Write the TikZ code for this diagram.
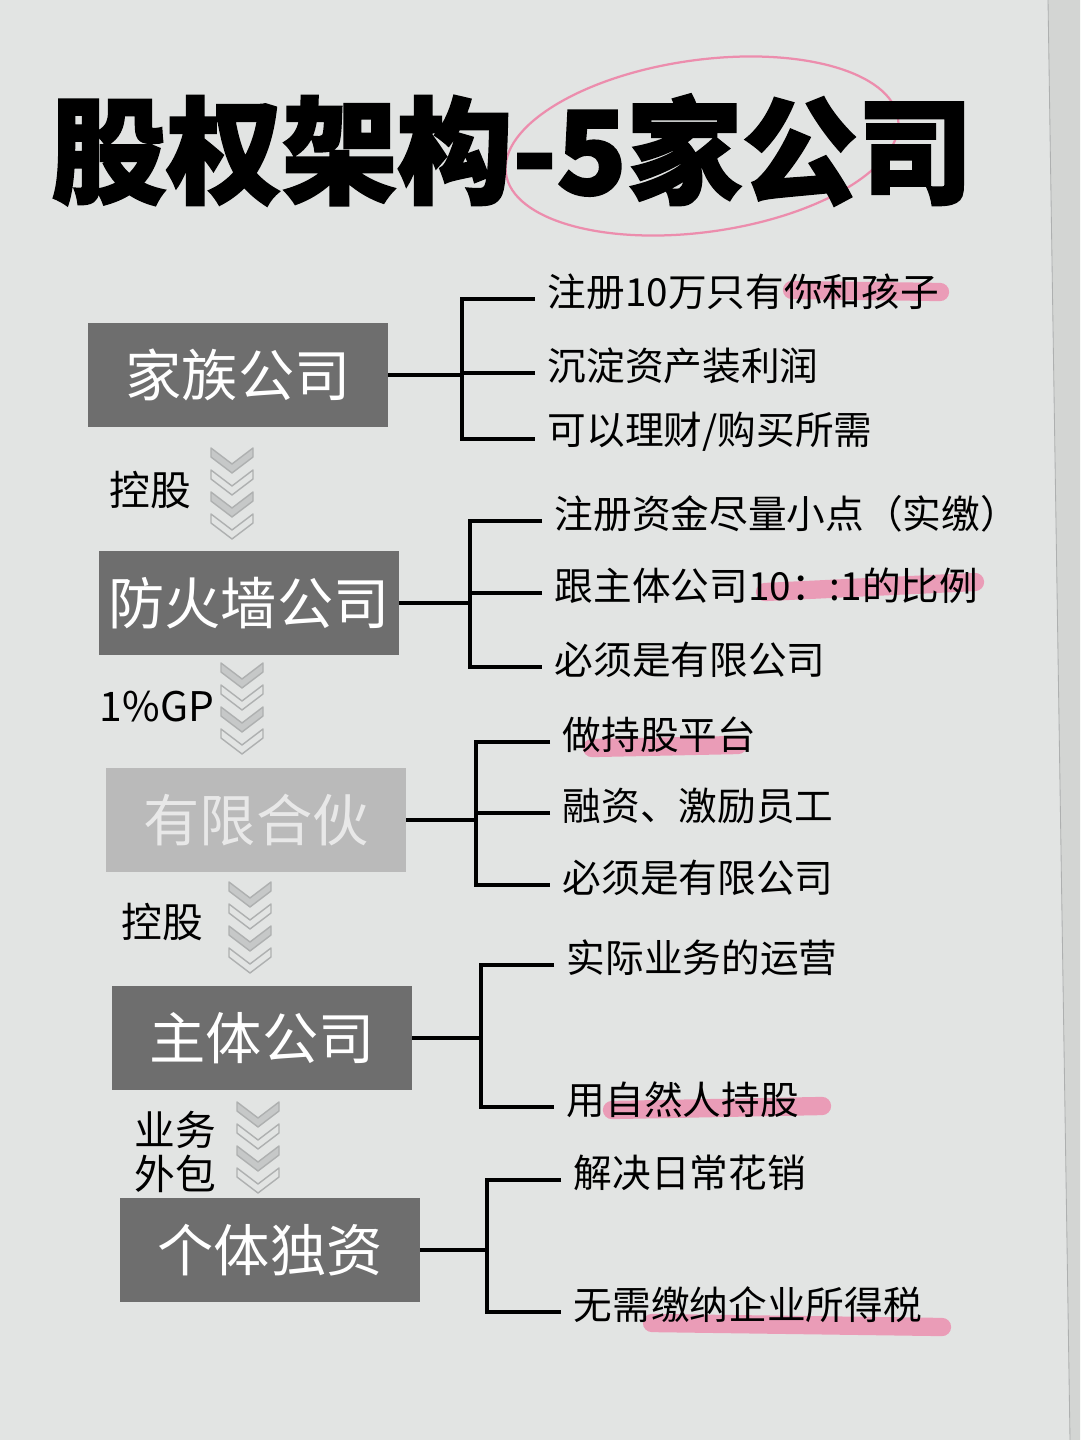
\documentclass[tikz,border=0pt]{standalone}
\usepackage{fontspec}
\setmainfont{Noto Sans CJK SC}
\newfontfamily\titlefont{Noto Sans CJK SC}[BoldFeatures={FakeBold=2}]

\definecolor{paper}{HTML}{E2E4E3}
\definecolor{paperedge}{HTML}{D3D5D3}
\definecolor{boxdark}{HTML}{6E6E6E}
\definecolor{boxlight}{HTML}{BABABA}
\definecolor{boxlighttext}{HTML}{E8E8E8}
\definecolor{chevgrey}{HTML}{C6C8C8}
\definecolor{chevline}{HTML}{AEB0B0}
\definecolor{marker}{HTML}{F0709C}

\tikzset{
  box/.style={fill=boxdark, text=white, minimum width=7.5cm, minimum height=2.62cm,
    inner sep=0pt, font=\fontsize{40}{44}\selectfont},
  item/.style={anchor=west, inner xsep=9pt, inner ysep=0pt, font=\fontsize{27.5}{30}\selectfont},
  tag/.style={font=\fontsize{29}{31}\selectfont, align=center},
  link/.style={line width=2.4pt},
  hilite/.style={marker, opacity=.62, line width=13pt, line cap=round},
  chev/.pic={
    \foreach \k/\fc in {0/chevgrey,1/paper,2/chevgrey,3/paper}
      \filldraw[fill=\fc, draw=chevline, line width=1pt, line join=round]
        (-21,22*\k) -- (0,22*\k+16) -- (21,22*\k) -- (21,22*\k+9)
        -- (0,22*\k+25) -- (-21,22*\k+9) -- cycle;
  }
}

\begin{document}
\begin{tikzpicture}[x=0.025cm,y=-0.025cm]
\def\tk{-5pt} % ticks sit a little under the text centre

\useasboundingbox (0,0) rectangle (1080,1440);
\fill[paper] (0,0) rectangle (1080,1440);
\fill[paperedge] (1048,0) -- (1080,0) -- (1080,1440) -- (1070,1440) -- cycle;
\draw[chevline, line width=.6pt] (1048,0) -- (1070,1440);

% marker pen
\draw[marker, line width=1.6pt, opacity=.75, rotate around={8:(702,146)}]
  (702,146) ellipse [x radius=198, y radius=86];
\draw[hilite] (792,290) -- (940,292);
\draw[hilite] (765,592) -- (975,582);
\draw[hilite] (592,748) -- (738,745);
\draw[hilite] (612,1110) -- (822,1106);
\draw[hilite] (652,1323) -- (942,1327);

\node[font=\titlefont\fontsize{82}{84}\selectfont\bfseries] (title) at (512,150) {股权架构-5家公司};

% the five companies
\node[box] (jz) at (238,375) {家族公司};
\node[box] (fhq) at (249,603) {防火墙公司};
\node[box, fill=boxlight, text=boxlighttext] (yh) at (256,820) {有限合伙};
\node[box] (zt) at (262,1038) {主体公司};
\node[box] (gt) at (270,1250) {个体独资};

% chevrons + what they mean
\pic at (232,448) {chev};
\pic at (242,663) {chev};
\pic at (250,882) {chev};
\pic at (258,1102) {chev};
\node[tag] (t1) at (150,490) {控股};
\node[tag] (t2) at (157,707) {1\%GP};
\node[tag] (t3) at (162,922) {控股};
\node[tag] (t4) at (175,1152) {业务\\外包};

% notes
\node[item] (jz1) at (535,292) {注册10万只有你和孩子};
\node[item] (jz2) at (535,366) {沉淀资产装利润};
\node[item] (jz3) at (535,432) {可以理财/购买所需};
\node[item] (fhq1) at (542,514) {注册资金尽量小点（实缴）};
\node[item] (fhq2) at (542,586) {跟主体公司10：:1的比例};
\node[item] (fhq3) at (542,660) {必须是有限公司};
\node[item] (yh1) at (550,735) {做持股平台};
\node[item] (yh2) at (550,806) {融资、激励员工};
\node[item] (yh3) at (550,878) {必须是有限公司};
\node[item] (zt1) at (554,958) {实际业务的运营};
\node[item] (zt2) at (554,1100) {用自然人持股};
\node[item] (gt1) at (561,1173) {解决日常花销};
\node[item] (gt2) at (561,1305) {无需缴纳企业所得税};

% brackets
\foreach \n/\bx in {jz/462,fhq/470,yh/476}{
  \coordinate (\n0) at (\bx,0);
  \draw[link] (\n.east) -- (\n.east -| \n0);
  \draw[link] ([yshift=\tk]\n1.west) -| ([yshift=\tk]\n3.west -| \n0) -- ([yshift=\tk]\n3.west);
  \draw[link] ([yshift=\tk]\n2.west) -- ([yshift=\tk]\n2.west -| \n0);
}
\foreach \n/\bx in {zt/481,gt/487}{
  \coordinate (\n0) at (\bx,0);
  \draw[link] (\n.east) -- (\n.east -| \n0);
  \draw[link] ([yshift=\tk]\n1.west) -| ([yshift=\tk]\n2.west -| \n0) -- ([yshift=\tk]\n2.west);
}
\end{tikzpicture}
\end{document}
